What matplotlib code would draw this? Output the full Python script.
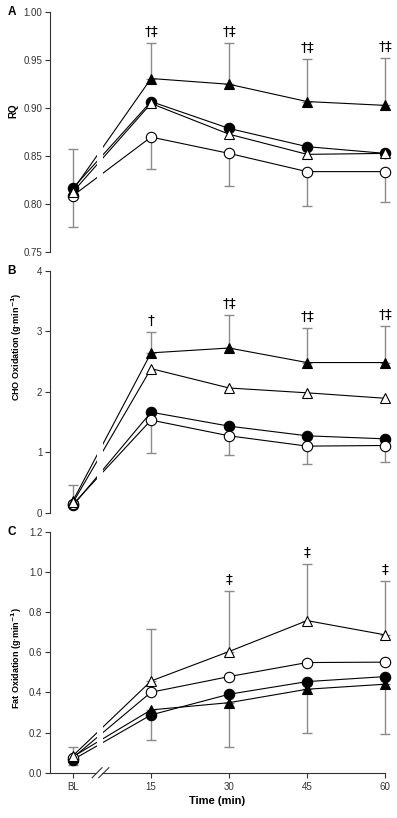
import matplotlib
matplotlib.use("Agg")
import matplotlib.pyplot as plt
import numpy as np

plt.rcParams['font.family'] = ['Liberation Sans', 'DejaVu Sans']

# Tidspunkter (BL = baseline)
time_labels = ['BL', '15', '30', '45', '60']
x = np.arange(len(time_labels))

# A: RQ
rq_fc = [0.817, 0.907, 0.879, 0.860, 0.853]   # fyldt cirkel
rq_oc = [0.809, 0.870, 0.853, 0.834, 0.834]   # aaben cirkel
rq_ft = [0.815, 0.931, 0.925, 0.907, 0.903]   # fyldt trekant
rq_ot = [0.813, 0.905, 0.873, 0.852, 0.853]   # aaben trekant
rq_up_sd = [0.043, 0.037, 0.043, 0.044, 0.049]
rq_lo_sd = [0.033, 0.033, 0.034, 0.036, 0.032]
rq_sig = ['', '†‡', '†‡', '†‡', '†‡']

# B: CHO oxidation
cho_fc = [0.12, 1.66, 1.43, 1.27, 1.22]
cho_oc = [0.14, 1.53, 1.27, 1.10, 1.11]
cho_ft = [0.20, 2.64, 2.72, 2.48, 2.48]
cho_ot = [0.17, 2.38, 2.06, 1.98, 1.89]
cho_up_sd = [0.26, 0.34, 0.55, 0.57, 0.60]
cho_lo_sd = [0.00, 0.55, 0.31, 0.29, 0.28]
cho_sig = ['', '†', '†‡', '†‡', '†‡']

# C: Fat oxidation
fat_fc = [0.065, 0.288, 0.391, 0.454, 0.479]
fat_oc = [0.075, 0.401, 0.479, 0.549, 0.551]
fat_ft = [0.080, 0.313, 0.349, 0.416, 0.441]
fat_ot = [0.085, 0.457, 0.604, 0.758, 0.687]
fat_up_sd = [0.045, 0.260, 0.302, 0.282, 0.269]
fat_lo_sd = [0.040, 0.150, 0.219, 0.220, 0.248]
fat_sig = ['', '', '‡', '‡', '‡']

fig = plt.figure(figsize=(3.97, 8.18), dpi=100)
axA = fig.add_axes([0.126, 0.6916, 0.844, 0.2934])
axB = fig.add_axes([0.126, 0.3732, 0.844, 0.2961])
axC = fig.add_axes([0.126, 0.0554, 0.844, 0.2943])


def draw_panel(ax, fc, oc, ft, ot, top, up_sd, bottom, lo_sd, sig):
    # Linjer
    for s in [fc, oc, ft, ot]:
        ax.plot(x, s, '-', color='black', lw=0.8, zorder=2)
    # Afbrydelse mellem BL og 15
    ax.axvspan(0.31, 0.385, color='white', lw=0, zorder=2.1)
    # Fejlbarer (kun en side)
    ax.errorbar(x, top, yerr=[np.zeros(len(x)), up_sd], fmt='none',
                ecolor='#8a8a8a', elinewidth=1.0, capsize=3.5, capthick=1.0,
                zorder=1.5, clip_on=False)
    ax.errorbar(x, bottom, yerr=[lo_sd, np.zeros(len(x))], fmt='none',
                ecolor='#8a8a8a', elinewidth=1.0, capsize=3.5, capthick=1.0,
                zorder=1.5, clip_on=False)
    # Markoerer
    ax.plot(x, fc, ls='none', marker='o', ms=7.5, mfc='black', mec='black',
            mew=0.8, zorder=4, clip_on=False)
    ax.plot(x, oc, ls='none', marker='o', ms=7.5, mfc='white', mec='black',
            mew=0.8, zorder=4, clip_on=False)
    ax.plot(x, ft, ls='none', marker='^', ms=7.5, mfc='black', mec='black',
            mew=0.8, zorder=4, clip_on=False)
    ax.plot(x, ot, ls='none', marker='^', ms=7.5, mfc='white', mec='black',
            mew=0.8, zorder=4, clip_on=False)
    # Signifikans
    for xi, yi, si, txt in zip(x, top, up_sd, sig):
        if txt:
            ax.annotate(txt, (xi, yi + si), xytext=(0, 8),
                        textcoords='offset points', ha='center', va='center',
                        fontsize=10, family='DejaVu Sans', zorder=5)

    ax.set_xlim(-0.295, 4.0)
    for side in ['top', 'right']:
        ax.spines[side].set_visible(False)
    ax.spines['left'].set_linewidth(0.8)
    ax.spines['left'].set_color('#333333')
    ax.tick_params(axis='y', direction='out', length=3.5, width=0.8,
                   labelsize=7, colors='#333333', pad=2)


draw_panel(axA, rq_fc, rq_oc, rq_ft, rq_ot, rq_ft, rq_up_sd, rq_oc, rq_lo_sd, rq_sig)
draw_panel(axB, cho_fc, cho_oc, cho_ft, cho_ot, cho_ft, cho_up_sd, cho_oc, cho_lo_sd, cho_sig)
draw_panel(axC, fat_fc, fat_oc, fat_ft, fat_ot, fat_ot, fat_up_sd, fat_ft, fat_lo_sd, fat_sig)

# Akser A og B: ingen x-akse
for ax in [axA, axB]:
    ax.spines['bottom'].set_visible(False)
    ax.set_xticks([])

axA.set_ylim(0.75, 1.00)
axA.set_yticks(np.arange(0.75, 1.001, 0.05))
axA.set_yticklabels(['%.2f' % v for v in np.arange(0.75, 1.001, 0.05)])
axA.set_ylabel('RQ', fontsize=7, fontweight='bold')
axA.yaxis.set_label_coords(-0.095, 0.59)

axB.set_ylim(0, 4)
axB.set_yticks([0, 1, 2, 3, 4])
axB.set_ylabel('CHO Oxidation (g·min$^{\\mathbf{-1}}$)', fontsize=6.5, fontweight='bold')
axB.yaxis.set_label_coords(-0.078, 0.684)

axC.set_ylim(0, 1.2)
axC.set_yticks(np.arange(0, 1.201, 0.2))
axC.set_yticklabels(['%.1f' % v for v in np.arange(0, 1.201, 0.2)])
axC.set_ylabel('Fat Oxidation (g·min$^{\\mathbf{-1}}$)', fontsize=6.5, fontweight='bold')
axC.yaxis.set_label_coords(-0.078, 0.477)
axC.set_xticks(x)
axC.set_xticklabels(time_labels)
axC.tick_params(axis='x', direction='out', length=3.5, width=0.8,
                labelsize=7, colors='#333333', pad=3)
axC.set_xlabel('Time (min)', fontsize=8, fontweight='bold', labelpad=3)

# Brudt x-akse
axC.spines['bottom'].set_bounds(0.37, 4.0)
axC.spines['bottom'].set_linewidth(0.8)
axC.spines['bottom'].set_color('#333333')
axC.plot([-0.295, 0.29], [0, 0], color='#333333', lw=0.8, clip_on=False, zorder=3)
axC.plot([0.245, 0.372], [-0.025, 0.025], color='#333333', lw=0.8, clip_on=False, zorder=3)
axC.plot([0.33, 0.46], [-0.025, 0.025], color='#333333', lw=0.8, clip_on=False, zorder=3)

# Panelbogstaver
for ax, letter in zip([axA, axB, axC], ['A', 'B', 'C']):
    ax.text(-0.115, 1.0, letter, transform=ax.transAxes, ha='center',
            va='center', fontsize=8.5, fontweight='bold')

fig.savefig('out.png', dpi=100)
